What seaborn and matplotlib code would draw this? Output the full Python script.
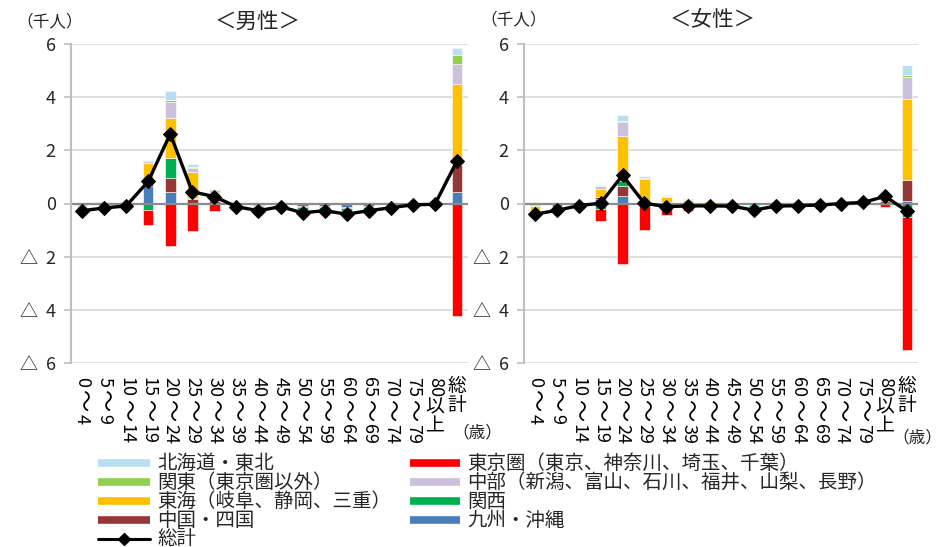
import numpy as np
import matplotlib
matplotlib.use("Agg")
import matplotlib.pyplot as plt
import seaborn as sns
from matplotlib.lines import Line2D

# ---- data (thousand persons) ----
ages = ["0～4", "5～9", "10～14", "15～19", "20～24", "25～29", "30～34", "35～39",
        "40～44", "45～49", "50～54", "55～59", "60～64", "65～69", "70～74", "75～79",
        "80以上", "総計"]

region_names = ["北海道・東北", "東京圏（東京、神奈川、埼玉、千葉）", "関東（東京圏以外）",
                "中部（新潟、富山、石川、福井、山梨、長野）", "東海（岐阜、静岡、三重）",
                "関西", "中国・四国", "九州・沖縄"]
region_colors = ["#B9DDF1", "#FF0000", "#92D050", "#CCC0DA", "#FFC000",
                 "#00B050", "#953735", "#4A7EBB"]

# male
hokkaido_m = [0.0, 0.0, 0.0, 0.03, 0.32, 0.11, 0.02, 0.0, 0.0, 0.0, 0.0, 0.0, 0.0, 0.0, 0.0, 0.0, 0.0, 0.25]
tokyo_m = [-0.04, -0.06, -0.06, -0.56, -1.61, -1.04, -0.29, -0.10, -0.17, -0.10, -0.08, -0.06, -0.05, -0.03, -0.03, -0.02, -0.03, -4.25]
kanto_m = [0.0, 0.03, 0.02, 0.0, 0.11, 0.04, 0.03, 0.02, 0.03, 0.03, 0.02, 0.02, 0.0, 0.0, 0.01, 0.0, 0.0, 0.34]
chubu_m = [0.02, 0.01, 0.01, 0.09, 0.58, 0.13, 0.09, 0.0, 0.0, 0.02, 0.0, 0.0, 0.0, 0.0, 0.0, 0.0, 0.0, 0.75]
tokai_m = [-0.15, -0.03, -0.02, 0.68, 1.49, 0.97, 0.26, 0.05, 0.03, 0.04, -0.05, -0.03, -0.08, -0.05, -0.04, 0.01, 0.01, 3.08]
kansai_m = [-0.05, -0.06, 0.0, -0.23, 0.78, 0.06, 0.06, 0.0, -0.08, -0.05, -0.10, -0.08, -0.10, -0.06, -0.05, -0.02, 0.0, 0.0]
chugoku_m = [-0.02, -0.02, -0.01, 0.19, 0.53, 0.16, 0.09, -0.03, -0.03, 0.0, -0.04, -0.04, -0.05, -0.03, 0.0, 0.0, 0.0, 1.01]
kyushu_m = [-0.03, -0.03, -0.02, 0.64, 0.42, 0.0, 0.0, -0.05, -0.05, -0.04, -0.10, -0.08, -0.12, -0.10, -0.05, -0.02, -0.01, 0.42]
total_m = [-0.27, -0.17, -0.09, 0.83, 2.62, 0.44, 0.26, -0.12, -0.27, -0.12, -0.35, -0.27, -0.40, -0.27, -0.16, -0.05, -0.03, 1.60]

# female
hokkaido_f = [0.0, 0.0, 0.0, 0.03, 0.21, 0.06, 0.04, 0.02, 0.01, 0.0, 0.0, 0.0, 0.0, 0.0, 0.0, 0.02, 0.05, 0.40]
tokyo_f = [-0.06, -0.10, -0.05, -0.45, -2.26, -1.00, -0.42, -0.22, -0.15, -0.12, -0.08, -0.05, -0.03, -0.02, -0.02, -0.02, -0.15, -5.00]
kanto_f = [0.01, 0.01, 0.02, 0.0, 0.05, 0.02, 0.02, 0.01, 0.0, 0.0, 0.0, 0.0, 0.0, 0.0, 0.0, 0.0, 0.02, 0.08]
chubu_f = [0.03, 0.0, 0.01, 0.12, 0.53, 0.03, 0.02, 0.03, 0.02, 0.01, 0.01, 0.0, 0.0, 0.0, 0.0, 0.0, 0.10, 0.80]
tokai_f = [-0.25, -0.03, -0.03, 0.30, 1.69, 0.82, 0.17, 0.10, 0.08, 0.05, -0.03, 0.0, 0.0, 0.0, 0.02, 0.04, 0.15, 3.06]
kansai_f = [-0.05, -0.10, 0.0, -0.20, 0.19, 0.0, 0.0, -0.03, -0.03, -0.02, -0.07, -0.02, -0.02, -0.02, 0.0, 0.0, 0.0, -0.50]
chugoku_f = [-0.02, 0.0, 0.0, 0.05, 0.38, 0.09, 0.06, 0.03, 0.0, 0.0, -0.02, 0.0, 0.0, 0.0, 0.0, 0.0, 0.05, 0.79]
kyushu_f = [-0.04, -0.02, -0.02, 0.18, 0.28, 0.0, -0.02, -0.03, -0.02, -0.02, -0.05, -0.03, -0.03, -0.02, 0.0, 0.0, 0.03, 0.09]
total_f = [-0.40, -0.26, -0.08, 0.01, 1.06, 0.01, -0.12, -0.09, -0.09, -0.10, -0.25, -0.10, -0.08, -0.06, 0.0, 0.04, 0.27, -0.29]

yticks = [-6, -4, -2, 0, 2, 4, 6]
ytick_labels = ["△  6", "△  4", "△  2", "0", "2", "4", "6"]
total_label = "総計"

# ---- style ----
sns.set_style("white")
plt.rcParams["font.family"] = ["Noto Sans CJK JP", "DejaVu Sans"]

W, H = 941, 547
fig = plt.figure(figsize=(W / 100, H / 100), dpi=100)
PT = 72 / 100  # points per pixel


def fx(px):
    return px / W


def fy(py):
    return 1 - py / H


def vertical_label(ax, xi, label):
    """Write a category label top-to-bottom below the axis."""
    runs, i = [], 0
    while i < len(label):
        ch = label[i]
        if ch.isdigit():
            j = i
            while j < len(label) and label[j].isdigit():
                j += 1
            runs.append(("num", label[i:j]))
            i = j
        else:
            runs.append(("wave" if ch == "～" else "cjk", ch))
            i += 1
    y = 14
    common = dict(xy=(xi, 0), xycoords=("data", "axes fraction"),
                  textcoords="offset points", ha="center", color="black")
    for kind, txt in runs:
        if kind == "num":
            ax.annotate(txt, xytext=(0, -y * PT), rotation=-90, va="top",
                        fontsize=13, **common)
            y += 9.5 * len(txt) + 1
        elif kind == "wave":
            ax.annotate(txt, xytext=(0, -(y + 13) * PT), rotation=-90,
                        va="center", fontsize=16, **common)
            y += 27
        else:
            ax.annotate(txt, xytext=(0, -(y - 1) * PT), rotation=0, va="top",
                        fontsize=13.5, **common)
            y += 19.5


def draw_panel(ax, series, total):
    x = np.arange(len(ages))
    pos = np.zeros(len(ages))
    neg = np.zeros(len(ages))
    # stacked from the last series upward
    for name, color, vals in reversed(list(zip(region_names, region_colors, series))):
        v = np.asarray(vals, dtype=float)
        bottom = np.where(v >= 0, pos, neg)
        ax.bar(x, v, bottom=bottom, width=0.48, color=color,
               edgecolor="white", linewidth=0.4, zorder=2)
        pos += np.where(v >= 0, v, 0)
        neg += np.where(v < 0, v, 0)
    ax.axhline(0, color="#8C8C8C", lw=1.6, zorder=2.5)
    sns.lineplot(x=x, y=total, ax=ax, color="black", lw=2.4, marker="D",
                 markersize=7, markeredgecolor="black", zorder=4, legend=False)

    ax.set_xlim(-0.5, len(ages) - 0.5)
    ax.set_ylim(-6, 6)
    ax.set_yticks(yticks)
    ax.set_yticklabels(ytick_labels, fontsize=13)
    ax.set_xticks([])
    ax.set_xlabel("")
    ax.set_ylabel("")
    ax.yaxis.grid(True, color="#D9D9D9", lw=1.2, zorder=0)
    ax.set_axisbelow(True)
    for s in ("top", "right", "bottom"):
        ax.spines[s].set_visible(False)
    ax.spines["left"].set_color("#BFBFBF")
    ax.spines["left"].set_linewidth(1.5)
    ax.tick_params(axis="y", direction="out", length=5, width=1.2,
                   color="#BFBFBF", pad=6, left=True)
    for i, lab in enumerate(ages):
        vertical_label(ax, i, lab)


series_m = [hokkaido_m, tokyo_m, kanto_m, chubu_m, tokai_m, kansai_m, chugoku_m, kyushu_m]
series_f = [hokkaido_f, tokyo_f, kanto_f, chubu_f, tokai_f, kansai_f, chugoku_f, kyushu_f]

ax1 = fig.add_axes([fx(71), fy(363), fx(468) - fx(71), fy(44) - fy(363)])
ax2 = fig.add_axes([fx(524), fy(363), fx(918) - fx(524), fy(44) - fy(363)])
draw_panel(ax1, series_m, total_m)
draw_panel(ax2, series_f, total_f)

# headers
fig.text(fx(50), fy(22), "（千人）", ha="center", va="center", fontsize=12)
fig.text(fx(258), fy(22), "＜男性＞", ha="center", va="center", fontsize=15.5)
fig.text(fx(514), fy(20), "（千人）", ha="center", va="center", fontsize=12)
fig.text(fx(713), fy(20), "＜女性＞", ha="center", va="center", fontsize=15.5)
fig.text(fx(452), fy(433), "（歳）", ha="left", va="center", fontsize=12)
fig.text(fx(892), fy(438), "（歳）", ha="left", va="center", fontsize=12)

# legend
col1 = [0, 2, 4, 6]
col2 = [1, 3, 5, 7]
rows = [463, 482, 501, 520, 539]
LEG_FS = 14
for r, k in enumerate(col1):
    fig.add_artist(Line2D([fx(98), fx(150)], [fy(rows[r])] * 2,
                          color=region_colors[k], lw=5.5, solid_capstyle="butt"))
    fig.text(fx(157), fy(rows[r]), region_names[k], ha="left", va="center", fontsize=LEG_FS)
fig.add_artist(Line2D([fx(98), fx(150)], [fy(rows[4])] * 2, color="black", lw=2.2))
fig.add_artist(Line2D([fx(124)], [fy(rows[4])], color="black", marker="D", markersize=6))
fig.text(fx(157), fy(rows[4]), total_label, ha="left", va="center", fontsize=LEG_FS)
for r, k in enumerate(col2):
    fig.add_artist(Line2D([fx(410), fx(460)], [fy(rows[r])] * 2,
                          color=region_colors[k], lw=5.5, solid_capstyle="butt"))
    fig.text(fx(467), fy(rows[r]), region_names[k], ha="left", va="center", fontsize=LEG_FS)

fig.savefig("out.png", dpi=100)
